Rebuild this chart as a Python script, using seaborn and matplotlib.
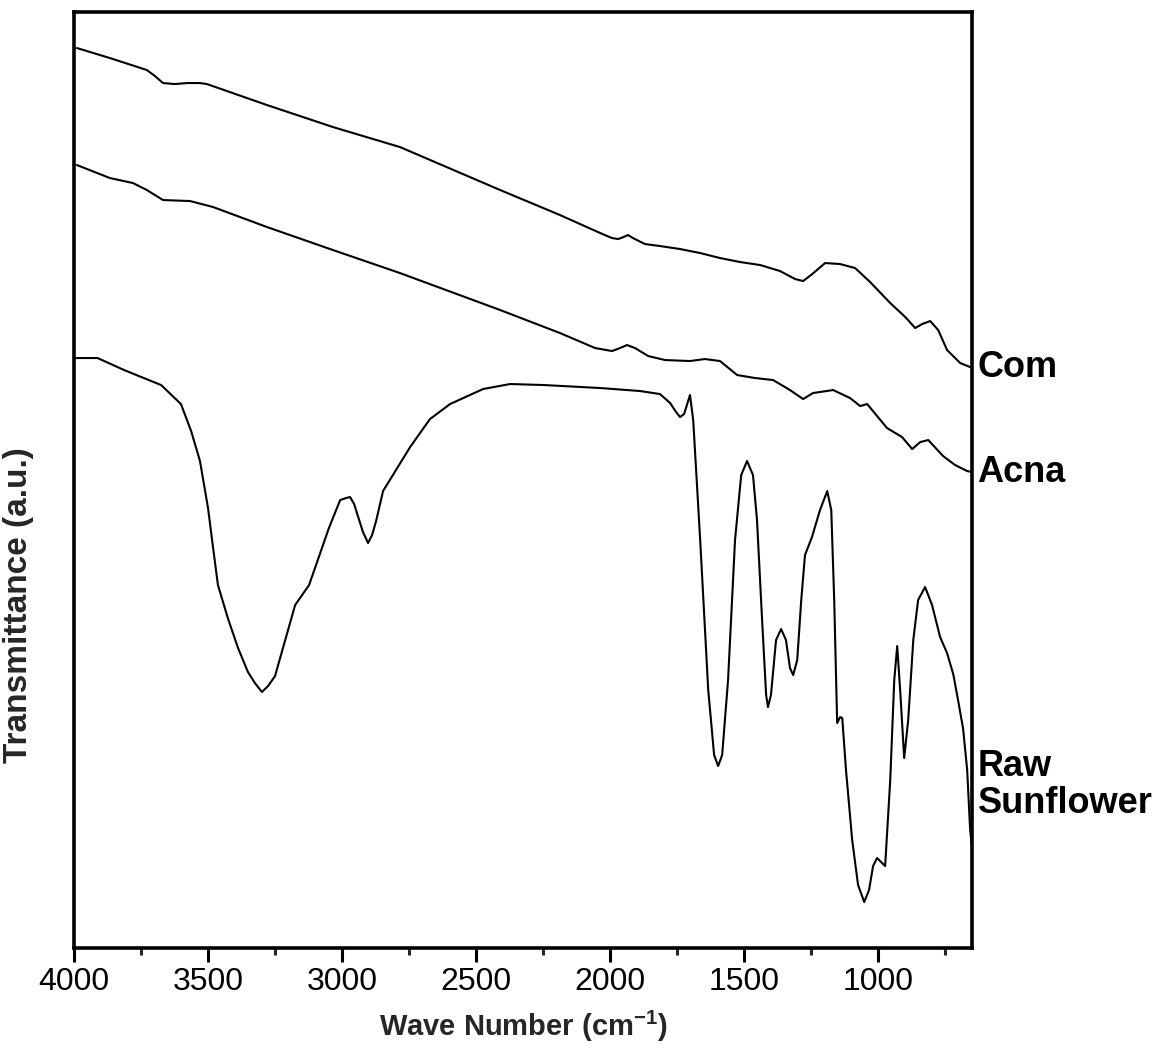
import numpy as np
import pandas as pd
import seaborn as sns
import matplotlib
matplotlib.use("Agg")
import matplotlib.pyplot as plt
from matplotlib.ticker import MultipleLocator

# FTIR spectra: wavenumber (cm-1) and transmittance (a.u., stacked offsets)
com_wn = [3989, 3866, 3728, 3698, 3668, 3623, 3578, 3530, 3504, 3280, 3034, 2784,
          2410, 2187, 2037, 1993, 1970, 1950, 1933, 1915, 1870, 1814, 1739, 1664,
          1590, 1515, 1440, 1366, 1310, 1280, 1246, 1198, 1142, 1086, 1030, 955,
          899, 862, 836, 806, 776, 743, 694, 657, 650]
com_t = [90.0, 89.0, 87.8, 87.2, 86.5, 86.4, 86.5, 86.5, 86.4, 84.3, 82.1, 80.1,
         75.8, 73.3, 71.5, 71.0, 70.9, 71.1, 71.3, 71.0, 70.4, 70.2, 69.9, 69.5,
         69.0, 68.6, 68.3, 67.7, 66.9, 66.7, 67.4, 68.5, 68.4, 68.0, 66.6, 64.5,
         63.1, 62.0, 62.4, 62.7, 61.8, 59.8, 58.5, 58.1, 58.1]

acna_wn = [3989, 3866, 3780, 3728, 3668, 3567, 3481, 3280, 3034, 2784, 2410, 2187,
           2056, 1993, 1963, 1937, 1907, 1858, 1795, 1702, 1646, 1590, 1526, 1459,
           1392, 1329, 1280, 1243, 1168, 1105, 1067, 1041, 967, 911, 873, 843,
           813, 758, 713, 668, 650]
acna_t = [78.3, 77.0, 76.5, 75.8, 74.8, 74.7, 74.1, 72.1, 69.8, 67.5, 63.8, 61.5,
          60.0, 59.7, 60.0, 60.3, 60.0, 59.2, 58.8, 58.7, 58.9, 58.7, 57.3, 57.0,
          56.8, 55.8, 54.9, 55.5, 55.8, 55.0, 54.2, 54.4, 52.0, 51.1, 49.9, 50.6,
          50.8, 49.2, 48.3, 47.7, 47.6]

raw_wn = [4000, 3912, 3813, 3675, 3601, 3563, 3530, 3500, 3481, 3463, 3425, 3388,
          3351, 3325, 3299, 3276, 3250, 3175, 3123, 3049, 3007, 2985, 2970, 2955,
          2922, 2903, 2888, 2873, 2847, 2746, 2672, 2597, 2474, 2373, 2246, 2037,
          1888, 1814, 1776, 1754, 1739, 1724, 1702, 1690, 1664, 1634, 1612, 1597,
          1582, 1560, 1534, 1511, 1489, 1467, 1452, 1433, 1418, 1411, 1400, 1381,
          1362, 1344, 1329, 1317, 1302, 1287, 1273, 1247, 1217, 1190, 1175, 1164,
          1153, 1142, 1134, 1120, 1097, 1075, 1052, 1034, 1019, 1004, 989, 974,
          955, 940, 929, 918, 903, 888, 869, 851, 825, 799, 769, 743,
          720, 702, 683, 668, 657, 650]
raw_t = [59.0, 59.0, 57.8, 56.3, 54.4, 51.7, 48.7, 44.0, 40.0, 36.3, 32.9, 30.0,
         27.6, 26.5, 25.6, 26.2, 27.2, 34.3, 36.3, 42.0, 44.8, 45.0, 45.1, 44.4,
         41.6, 40.5, 41.3, 42.7, 45.7, 50.1, 52.9, 54.4, 55.9, 56.4, 56.3, 56.0,
         55.7, 55.4, 54.5, 53.6, 53.1, 53.4, 55.3, 52.8, 40.8, 25.8, 19.3, 18.2,
         19.3, 26.8, 40.8, 47.3, 48.7, 47.3, 42.8, 32.8, 25.3, 24.1, 25.3, 30.8,
         31.9, 30.8, 28.0, 27.3, 28.8, 34.8, 39.3, 41.1, 43.8, 45.7, 43.8, 34.8,
         22.5, 23.1, 23.0, 17.8, 10.8, 6.3, 4.6, 5.8, 8.2, 9.0, 8.6, 8.2,
         16.8, 26.8, 30.2, 25.8, 19.0, 22.8, 30.8, 34.8, 36.1, 34.3, 31.1, 29.5,
         27.4, 24.8, 21.9, 17.8, 11.9, 10.0]

series_names = ["Com", "Acna", "Raw\nSunflower"]
label_t = [58.1, 47.6, 16.3]

sns.set_theme(style="white")
plt.rcParams["font.family"] = ["Liberation Sans", "DejaVu Sans"]
plt.rcParams["mathtext.fontset"] = "custom"
plt.rcParams["mathtext.rm"] = "Liberation Sans:bold"
plt.rcParams["mathtext.bf"] = "Liberation Sans:bold"

fig = plt.figure(figsize=(11.67, 10.48), dpi=100)
ax = fig.add_axes([0.0634, 0.0954, 0.7695, 0.8931])

frames = []
for name, wn, t in zip(series_names, [com_wn, acna_wn, raw_wn], [com_t, acna_t, raw_t]):
    frames.append(pd.DataFrame({"wn": wn, "t": t, "sample": name}))
df = pd.concat(frames, ignore_index=True)

for name in series_names:
    sub = df[df["sample"] == name]
    sns.lineplot(data=sub, x="wn", y="t", ax=ax, color="black", linewidth=1.5,
                 sort=False, estimator=None)

ax.set_xlim(4000, 650)
ax.set_ylim(0, 93.6)

for side in ["left", "right", "top", "bottom"]:
    ax.spines[side].set_color("black")
    ax.spines[side].set_linewidth(2.6)

ax.xaxis.set_major_locator(MultipleLocator(500))
ax.xaxis.set_minor_locator(MultipleLocator(250))
ax.tick_params(axis="x", which="major", direction="out", length=10, width=2.2,
               labelsize=23, pad=4, colors="black", bottom=True)
ax.tick_params(axis="x", which="minor", direction="out", length=5, width=2.2,
               bottom=True)
ax.set_yticks([])

ax.set_xlabel(r"Wave Number (cm$^{-1}$)", fontsize=21, fontweight="bold", labelpad=8)
ax.set_ylabel("Transmittance (a.u.)", fontsize=24, fontweight="bold")
ax.yaxis.set_label_coords(-0.045, 0.366)

# sample names beside the right ends of the traces
for name, t in zip(series_names, label_t):
    ax.annotate(name, xy=(1.0, t), xycoords=("axes fraction", "data"),
                xytext=(4, 0), textcoords="offset points",
                ha="left", va="center", fontsize=26, fontweight="bold",
                color="black", linespacing=1.1)

fig.savefig("out.png", dpi=100, facecolor="white")
